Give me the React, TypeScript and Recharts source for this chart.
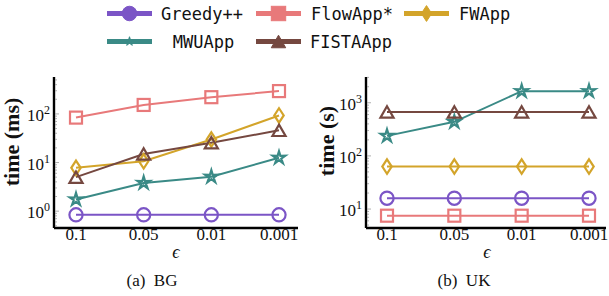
import React from 'react';
import { LineChart, Line, XAxis, YAxis } from 'recharts';

// ---------- data ----------
const epsilonLabels = ['0.1', '0.05', '0.01', '0.001'];

const greedyBG = [0.84, 0.84, 0.84, 0.84];
const flowAppBG = [84, 153, 221, 295];
const fwAppBG = [7.8, 10.6, 29.8, 93];
const mwuAppBG = [1.74, 3.8, 5.1, 12.5];
const fistaAppBG = [5.0, 15, 25.5, 46];

const greedyUK = [16, 16, 16, 16];
const flowAppUK = [7.5, 7.5, 7.5, 7.5];
const fwAppUK = [63, 63, 63, 63];
const mwuAppUK = [238, 437, 1650, 1650];
const fistaAppUK = [670, 670, 670, 670];

const bgMajorTicks = [1, 10, 100];
const bgMinorTicks = [0.5, 0.6, 0.7, 0.8, 0.9, 2, 3, 4, 5, 6, 7, 8, 9, 20, 30, 40, 50, 60, 70, 80, 90, 200, 300, 400, 500];
const ukMajorTicks = [10, 100, 1000];
const ukMinorTicks = [5, 6, 7, 8, 9, 20, 30, 40, 50, 60, 70, 80, 90, 200, 300, 400, 500, 600, 700, 800, 900, 2000, 3000];

const bgDomain = [0.45, 575];
const ukDomain = [4.4, 3050];

const seriesNames = ['Greedy++', 'FlowApp*', 'FWApp', 'MWUApp', 'FISTAApp'];
const seriesKeys = ['greedy', 'flow', 'fw', 'mwu', 'fista'];

// ---------- style ----------
const COLORS: Record<string, string> = {
  greedy: '#7b55c6',
  flow: '#e8797a',
  fw: '#d3a42a',
  mwu: '#3a8a86',
  fista: '#754840',
};
const MARKERS: Record<string, string> = {
  greedy: 'circle',
  flow: 'square',
  fw: 'diamond',
  mwu: 'star',
  fista: 'triangle',
};

const SERIF = '"Liberation Serif", "Times New Roman", serif';
const MONO = '"DejaVu Sans Mono", monospace';

function starPath(cx: number, cy: number, R: number, r: number) {
  const pts: string[] = [];
  for (let i = 0; i < 10; i++) {
    const ang = -Math.PI / 2 + (i * Math.PI) / 5;
    const rad = i % 2 === 0 ? R : r;
    pts.push(`${cx + rad * Math.cos(ang)},${cy + rad * Math.sin(ang)}`);
  }
  return 'M' + pts.join('L') + 'Z';
}

function Marker({ kind, cx, cy, color, filled, s }: any) {
  const fill = filled ? color : 'none';
  const sw = filled ? 1 : 2.2;
  if (kind === 'circle') return <circle cx={cx} cy={cy} r={6.6 * s} fill={fill} stroke={color} strokeWidth={sw} />;
  if (kind === 'square') {
    const h = 6 * s;
    return <rect x={cx - h} y={cy - h} width={2 * h} height={2 * h} fill={fill} stroke={color} strokeWidth={sw} />;
  }
  if (kind === 'diamond') {
    const w = 4.7 * s;
    const h = 7.2 * s;
    return <path d={`M${cx},${cy - h}L${cx + w},${cy}L${cx},${cy + h}L${cx - w},${cy}Z`} fill={fill} stroke={color} strokeWidth={sw} />;
  }
  if (kind === 'triangle') {
    const h = 5.7 * s;
    return <path d={`M${cx},${cy - h}L${cx + h * 1.15},${cy + h}L${cx - h * 1.15},${cy + h}Z`} fill={fill} stroke={color} strokeWidth={sw} strokeLinejoin="miter" />;
  }
  // star
  return <path d={starPath(cx, cy, 6.6 * s, 2.4 * s)} fill={fill} stroke={color} strokeWidth={sw} strokeLinejoin="miter" />;
}

function makeLeftTick(majors: number[]) {
  return (props: any) => {
    const { x, y, payload } = props;
    const v = payload.value;
    const isMajor = majors.includes(v);
    const ax = x + 4;
    const exp = Math.round(Math.log10(v));
    return (
      <g>
        <line x1={ax + 1} x2={ax + (isMajor ? 5 : 3)} y1={y} y2={y} stroke="#9a9a9a" strokeWidth={0.8} />
        {isMajor && (
          <text x={x} y={y + 7} textAnchor="end" fontFamily={SERIF} fontSize={17} fill="#111">
            <tspan>10</tspan>
            <tspan dy={-7} fontSize={12}>{exp}</tspan>
          </text>
        )}
      </g>
    );
  };
}

function makeRightTick(majors: number[]) {
  return (props: any) => {
    const { x, y, payload } = props;
    const isMajor = majors.includes(payload.value);
    return <line x1={x - 1} x2={x - (isMajor ? 5 : 3)} y1={y} y2={y} stroke="#9a9a9a" strokeWidth={0.8} />;
  };
}

const TopTick = (props: any) => {
  const { x, y } = props;
  return <line x1={x} x2={x} y1={y + 1} y2={y + 5} stroke="#9a9a9a" strokeWidth={0.8} />;
};

const BottomTick = (props: any) => {
  const { x, y, payload } = props;
  return (
    <text x={x} y={y + 12} textAnchor="middle" fontFamily={SERIF} fontSize={17} fill="#111">
      {payload.value}
    </text>
  );
};

function Panel({ rows, domain, majors, minors, pos, yWidth, margin, padding }: any) {
  const allTicks = [...majors, ...minors].sort((a: number, b: number) => a - b);
  return (
    <div style={{ position: 'absolute', left: pos[0], top: pos[1] }}>
      <LineChart width={309} height={200} data={rows} margin={margin}>
        <XAxis
          dataKey="eps"
          type="category"
          padding={padding}
          height={32}
          axisLine={{ stroke: '#000', strokeWidth: 2.4 }}
          tickLine={false}
          tickSize={0}
          tickMargin={0}
          interval={0}
          tick={BottomTick}
        />
        <XAxis
          xAxisId="top"
          dataKey="eps"
          type="category"
          orientation="top"
          mirror
          padding={padding}
          height={0}
          axisLine={{ stroke: '#000', strokeWidth: 2.4 }}
          tickLine={false}
          tickSize={0}
          tickMargin={0}
          interval={0}
          tick={TopTick}
        />
        <YAxis
          scale="log"
          type="number"
          domain={domain}
          allowDataOverflow
          ticks={allTicks}
          interval={0}
          width={yWidth}
          axisLine={{ stroke: '#000', strokeWidth: 2.4 }}
          tickLine={false}
          tickSize={0}
          tickMargin={4}
          tick={makeLeftTick(majors)}
        />
        <YAxis
          yAxisId="right"
          orientation="right"
          mirror
          scale="log"
          type="number"
          domain={domain}
          allowDataOverflow
          ticks={allTicks}
          interval={0}
          width={0}
          axisLine={{ stroke: '#000', strokeWidth: 2.4 }}
          tickLine={false}
          tickSize={0}
          tickMargin={0}
          tick={makeRightTick(majors)}
        />
        {seriesKeys.map((k) => (
          <Line
            key={k}
            dataKey={k}
            stroke={COLORS[k]}
            strokeWidth={2}
            isAnimationActive={false}
            dot={(p: any) => (
              <Marker key={`${k}-${p.index}`} kind={MARKERS[k]} cx={p.cx} cy={p.cy} color={COLORS[k]} filled={false} s={1} />
            )}
            activeDot={false}
          />
        ))}
      </LineChart>
    </div>
  );
}

const legendLayout = [
  { key: 'greedy', x: 107, y: 13.5, tx: 161, anchor: 'start' },
  { key: 'flow', x: 256, y: 13.5, tx: 311, anchor: 'start' },
  { key: 'fw', x: 404, y: 13.5, tx: 459, anchor: 'start' },
  { key: 'mwu', x: 107, y: 41.5, tx: 203.5, anchor: 'middle' },
  { key: 'fista', x: 256, y: 41.5, tx: 310, anchor: 'start' },
];

export default function App() {
  const bgRows = epsilonLabels.map((eps, i) => ({
    eps,
    greedy: greedyBG[i],
    flow: flowAppBG[i],
    fw: fwAppBG[i],
    mwu: mwuAppBG[i],
    fista: fistaAppBG[i],
  }));
  const ukRows = epsilonLabels.map((eps, i) => ({
    eps,
    greedy: greedyUK[i],
    flow: flowAppUK[i],
    fw: fwAppUK[i],
    mwu: mwuAppUK[i],
    fista: fistaAppUK[i],
  }));

  return (
    <div style={{ position: 'absolute', left: 0, top: 0, width: 609, height: 296, background: '#fff', overflow: 'hidden' }}>
      <svg width={609} height={60} style={{ position: 'absolute', left: 0, top: 0 }}>
        {legendLayout.map((it) => {
          const idx = seriesKeys.indexOf(it.key);
          const c = COLORS[it.key];
          const legendScale = it.key === 'mwu' ? 0.72 : it.key === 'flow' ? 1.2 : 1.1;
          return (
            <g key={it.key}>
              <line x1={it.x} x2={it.x + 45} y1={it.y} y2={it.y} stroke={c} strokeWidth={5} />
              <Marker kind={MARKERS[it.key]} cx={it.x + 22.5} cy={it.y} color={c} filled s={legendScale} />
              <text x={it.tx} y={it.y + 6} textAnchor={it.anchor as any} fontFamily={MONO} fontSize={17} fill="#111">
                {seriesNames[idx]}
              </text>
            </g>
          );
        })}
      </svg>

      <Panel
        rows={bgRows}
        domain={bgDomain}
        majors={bgMajorTicks}
        minors={bgMinorTicks}
        pos={[0, 60]}
        yWidth={54}
        margin={{ top: 17, right: 11, bottom: 0, left: 0 }}
        padding={{ left: 22, right: 19 }}
      />
      <Panel
        rows={ukRows}
        domain={ukDomain}
        majors={ukMajorTicks}
        minors={ukMinorTicks}
        pos={[300, 60]}
        yWidth={66}
        margin={{ top: 17, right: 3, bottom: 0, left: 0 }}
        padding={{ left: 21, right: 17 }}
      />

      <svg width={609} height={296} style={{ position: 'absolute', left: 0, top: 0, pointerEvents: 'none' }}>
        <text transform="translate(19,142) rotate(-90)" textAnchor="middle" fontFamily={SERIF} fontWeight="bold" fontSize={22} fill="#111">
          time (ms)
        </text>
        <text transform="translate(334,141) rotate(-90)" textAnchor="middle" fontFamily={SERIF} fontWeight="bold" fontSize={22} fill="#111">
          time (s)
        </text>
        <text x={176} y={258} textAnchor="middle" fontFamily={SERIF} fontStyle="italic" fontSize={18} fill="#111">ϵ</text>
        <text x={487} y={258} textAnchor="middle" fontFamily={SERIF} fontStyle="italic" fontSize={18} fill="#111">ϵ</text>
        <text x={152} y={286} textAnchor="middle" fontFamily={SERIF} fontSize={17} fill="#111" style={{ whiteSpace: 'pre' }}>
          (a)  BG
        </text>
        <text x={464} y={286} textAnchor="middle" fontFamily={SERIF} fontSize={17} fill="#111" style={{ whiteSpace: 'pre' }}>
          (b)  UK
        </text>
      </svg>
    </div>
  );
}
